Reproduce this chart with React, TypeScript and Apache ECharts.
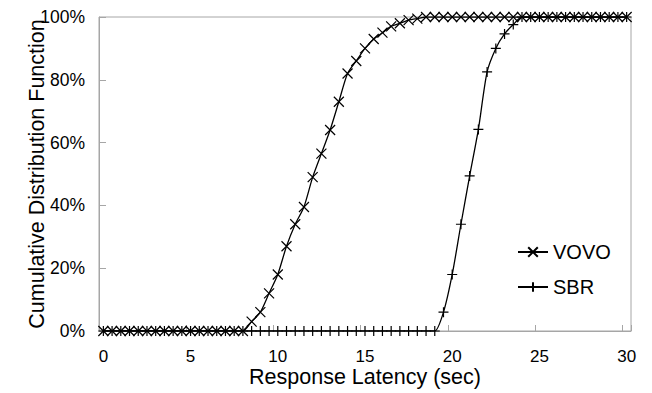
import React, { useEffect, useRef } from "react";
import * as echarts from "echarts";

const latency = [
  "0", "0.5", "1", "1.5", "2", "2.5", "3", "3.5", "4", "4.5",
  "5", "5.5", "6", "6.5", "7", "7.5", "8", "8.5", "9", "9.5",
  "10", "10.5", "11", "11.5", "12", "12.5", "13", "13.5", "14", "14.5",
  "15", "15.5", "16", "16.5", "17", "17.5", "18", "18.5", "19", "19.5",
  "20", "20.5", "21", "21.5", "22", "22.5", "23", "23.5", "24", "24.5",
  "25", "25.5", "26", "26.5", "27", "27.5", "28", "28.5", "29", "29.5",
  "30",
];

const vovo = [
  0, 0, 0, 0, 0, 0, 0, 0, 0, 0,
  0, 0, 0, 0, 0, 0, 0, 0.03, 0.06, 0.12,
  0.18, 0.27, 0.34, 0.395, 0.49, 0.565, 0.64, 0.73, 0.82, 0.86,
  0.9, 0.93, 0.95, 0.97, 0.98, 0.99, 0.995, 1, 1, 1,
  1, 1, 1, 1, 1, 1, 1, 1, 1, 1,
  1, 1, 1, 1, 1, 1, 1, 1, 1, 1,
  1,
];

const sbr = [
  0, 0, 0, 0, 0, 0, 0, 0, 0, 0,
  0, 0, 0, 0, 0, 0, 0, 0, 0, 0,
  0, 0, 0, 0, 0, 0, 0, 0, 0, 0,
  0, 0, 0, 0, 0, 0, 0, 0, 0, 0.06,
  0.18, 0.34, 0.494, 0.642, 0.825, 0.9, 0.946, 0.976, 1, 1,
  1, 1, 1, 1, 1, 1, 1, 1, 1, 1,
  1,
];

const seriesNames = ["VOVO", "SBR"];
const xTitle = "Response Latency (sec)";
const yTitle = "Cumulative Distribution Function";

const FONT = "'Liberation Sans', Arial, sans-serif";
const GRAY = "#a6a6a6";

export default function App() {
  const ref = useRef<HTMLDivElement>(null);

  useEffect(() => {
    if (!ref.current) return;
    const chart = echarts.init(ref.current, null, { renderer: "svg" });
    const common = {
      type: "line",
      smooth: 0.25,
      lineStyle: { color: "#000", width: 1.3 },
      itemStyle: { color: "#000", borderColor: "#000", borderWidth: 1.2 },
      showSymbol: true,
      showAllSymbol: true,
      emphasis: { disabled: true },
    };
    chart.setOption({
      animation: false,
      backgroundColor: "#fff",
      textStyle: { fontFamily: FONT },
      grid: {
        left: 99,
        top: 17,
        right: 21,
        bottom: 62,
        show: true,
        borderColor: GRAY,
        borderWidth: 1,
        containLabel: false,
      },
      legend: {
        orient: "vertical",
        left: 512,
        top: 237,
        itemWidth: 30,
        itemHeight: 12,
        itemGap: 15,
        data: seriesNames,
        textStyle: { fontFamily: FONT, fontSize: 20, color: "#000" },
      },
      xAxis: {
        type: "category",
        data: latency,
        boundaryGap: true,
        name: xTitle,
        nameLocation: "middle",
        nameGap: 35,
        nameMoveOverlap: false,
        nameTextStyle: { fontFamily: FONT, fontSize: 21.5, color: "#000" },
        axisLine: { show: true, lineStyle: { color: GRAY, width: 1 } },
        axisTick: {
          show: true,
          inside: true,
          length: 6,
          interval: 9,
          lineStyle: { color: GRAY },
        },
        axisLabel: {
          interval: 9,
          margin: 17,
          fontFamily: FONT,
          fontSize: 17,
          color: "#000",
        },
        splitLine: { show: false },
      },
      yAxis: {
        type: "value",
        min: 0,
        max: 1,
        interval: 0.2,
        name: yTitle,
        nameLocation: "middle",
        nameGap: 51,
        nameMoveOverlap: false,
        nameTextStyle: { fontFamily: FONT, fontSize: 21.5, color: "#000" },
        axisLine: { show: true, lineStyle: { color: GRAY, width: 1 } },
        axisTick: {
          show: true,
          inside: true,
          length: 7,
          lineStyle: { color: GRAY },
        },
        axisLabel: {
          margin: 14,
          fontFamily: FONT,
          fontSize: 17.5,
          color: "#000",
          formatter: (v: number) => Math.round(v * 100) + "%",
        },
        splitLine: { show: false },
      },
      series: [
        {
          ...common,
          name: seriesNames[0],
          data: vovo,
          symbol: "path://M0,0L10,10M10,0L0,10",
          symbolSize: [10, 10],
          z: 3,
        },
        {
          ...common,
          name: seriesNames[1],
          data: sbr,
          symbol: "path://M5,0L5,10M0,5L10,5",
          symbolSize: [10, 10],
          z: 2,
        },
      ],
    });
    return () => chart.dispose();
  }, []);

  return (
    <div
      ref={ref}
      style={{ position: "fixed", left: 0, top: 0, width: 652, height: 393 }}
    />
  );
}
